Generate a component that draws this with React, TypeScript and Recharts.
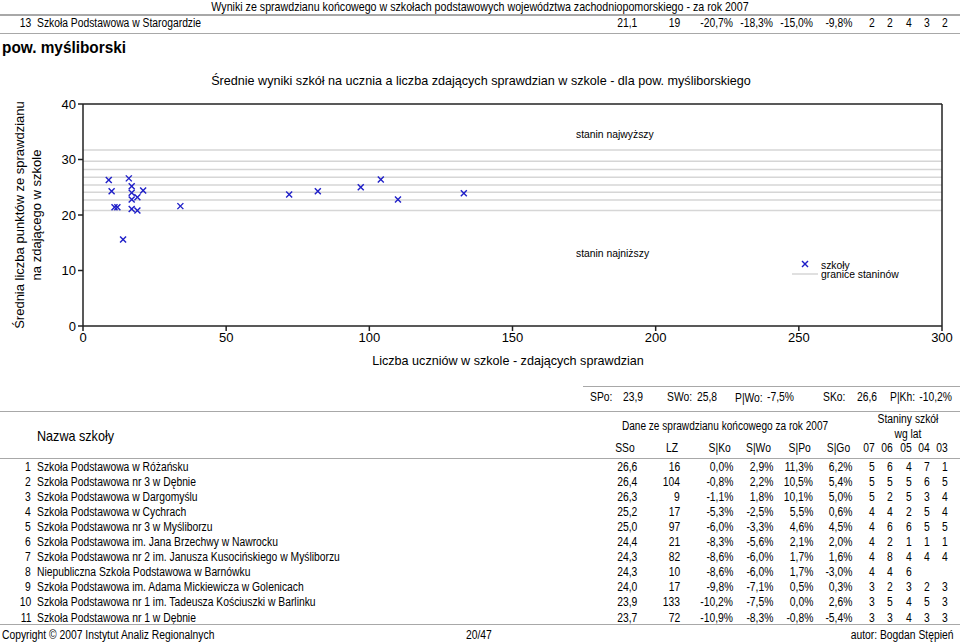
import React from 'react';
import { ScatterChart, Scatter, XAxis, YAxis, ReferenceLine } from 'recharts';

// szkoły: liczba zdających (LZ) i średni wynik (SSo)
const pointLZ = [16, 104, 9, 17, 97, 21, 82, 10, 17, 133, 72, 19, 17, 110, 34, 11, 12, 17, 19, 14];
const pointSSo = [26.6, 26.4, 26.3, 25.2, 25.0, 24.4, 24.3, 24.3, 24.0, 23.9, 23.7, 23.2, 22.8, 22.8, 21.6, 21.4, 21.4, 21.1, 20.8, 15.6];
const stanineBounds = [31.7, 29.7, 28.2, 26.8, 25.4, 24.1, 22.7, 20.8];
const xTicks = [0, 50, 100, 150, 200, 250, 300];
const yTicks = [0, 10, 20, 30, 40];

// tabela
const names = [
  'Szkoła Podstawowa w Różańsku',
  'Szkoła Podstawowa nr 3 w Dębnie',
  'Szkoła Podstawowa w Dargomyślu',
  'Szkoła Podstawowa w Cychrach',
  'Szkoła Podstawowa nr 3 w Myśliborzu',
  'Szkoła Podstawowa im. Jana Brzechwy w Nawrocku',
  'Szkoła Podstawowa nr 2 im. Janusza Kusocińskiego w Myśliborzu',
  'Niepubliczna Szkoła Podstawowa w Barnówku',
  'Szkoła Podstawowa im. Adama Mickiewicza w Golenicach',
  'Szkoła Podstawowa nr 1 im. Tadeusza Kościuszki w Barlinku',
  'Szkoła Podstawowa nr 1 w Dębnie',
];
const colSSo = ['26,6', '26,4', '26,3', '25,2', '25,0', '24,4', '24,3', '24,3', '24,0', '23,9', '23,7'];
const colLZ = ['16', '104', '9', '17', '97', '21', '82', '10', '17', '133', '72'];
const colSKo = ['0,0%', '-0,8%', '-1,1%', '-5,3%', '-6,0%', '-8,3%', '-8,6%', '-8,6%', '-9,8%', '-10,2%', '-10,9%'];
const colSWo = ['2,9%', '2,2%', '1,8%', '-2,5%', '-3,3%', '-5,6%', '-6,0%', '-6,0%', '-7,1%', '-7,5%', '-8,3%'];
const colSPo = ['11,3%', '10,5%', '10,1%', '5,5%', '4,6%', '2,1%', '1,7%', '1,7%', '0,5%', '0,0%', '-0,8%'];
const colSGo = ['6,2%', '5,4%', '5,0%', '0,6%', '4,5%', '2,0%', '1,6%', '-3,0%', '0,3%', '2,6%', '-5,4%'];
const staniny = [
  ['5', '6', '4', '7', '1'],
  ['5', '5', '5', '6', '5'],
  ['5', '2', '5', '3', '4'],
  ['4', '4', '2', '5', '4'],
  ['4', '6', '6', '5', '5'],
  ['4', '2', '1', '1', '1'],
  ['4', '8', '4', '4', '4'],
  ['4', '4', '6', '', ''],
  ['3', '2', '3', '2', '3'],
  ['3', '5', '4', '5', '3'],
  ['3', '3', '4', '3', '3'],
];
const prevRow = ['13', 'Szkoła Podstawowa w Starogardzie', '21,1', '19', '-20,7%', '-18,3%', '-15,0%', '-9,8%'];
const prevStaniny = ['2', '2', '4', '3', '2'];
const yearLabels = ['07', '06', '05', '04', '03'];
const colHeaders = ['SSo', 'LZ', 'S|Ko', 'S|Wo', 'S|Po', 'S|Go'];

const points = pointLZ.map((x, i) => ({ x, y: pointSSo[i] }));

const FONT = '"Liberation Sans", Arial, Helvetica, sans-serif';
const BLUE = '#1f1fc8';

type TProps = {
  x: number;
  y: number;
  anchor?: 'start' | 'middle' | 'end';
  size?: number;
  sx?: number;
  bold?: boolean;
  color?: string;
  children: React.ReactNode;
};

function T({ x, y, anchor = 'start', size = 12, sx = 0.86, bold, color = '#000', children }: TProps) {
  const lh = Math.round(size * 1.2);
  const inner: React.CSSProperties = {
    position: 'absolute',
    top: 0,
    whiteSpace: 'nowrap',
    fontSize: size,
    lineHeight: `${lh}px`,
    fontWeight: bold ? 'bold' : 'normal',
    color,
  };
  if (anchor === 'start') {
    inner.left = 0;
    inner.transformOrigin = 'left center';
    inner.transform = `scaleX(${sx})`;
  } else if (anchor === 'end') {
    inner.right = 0;
    inner.transformOrigin = 'right center';
    inner.transform = `scaleX(${sx})`;
  } else {
    inner.left = 0;
    inner.transformOrigin = 'center center';
    inner.transform = `translateX(-50%) scaleX(${sx})`;
  }
  return (
    <div style={{ position: 'absolute', left: x, top: y - lh / 2, width: 0, height: lh }}>
      <span style={inner}>{children}</span>
    </div>
  );
}

function HLine({ y, x1 = 0, x2 = 960, w = 1 }: { y: number; x1?: number; x2?: number; w?: number }) {
  return <div style={{ position: 'absolute', left: x1, top: y, width: x2 - x1, height: w, background: '#a8a8a8' }} />;
}

const Cross = (props: any) => {
  const { cx, cy } = props;
  const s = 3;
  return (
    <g stroke={BLUE} strokeWidth={1.4}>
      <line x1={cx - s} y1={cy - s} x2={cx + s} y2={cy + s} />
      <line x1={cx - s} y1={cy + s} x2={cx + s} y2={cy - s} />
    </g>
  );
};

const numRight = [637, 680, 733, 773, 813, 852];
const stanX = [872, 890, 909, 927, 945];

export default function App() {
  const rowY = (i: number) => 466.5 + i * 15.1;
  return (
    <div style={{ position: 'absolute', left: 0, top: 0, width: 960, height: 642, background: '#fff', fontFamily: FONT, overflow: 'hidden' }}>
      {/* nagłówek strony */}
      <T x={480} y={7} anchor="middle" size={13} sx={0.82}>
        Wyniki ze sprawdzianu końcowego w szkołach podstawowych województwa zachodniopomorskiego - za rok 2007
      </T>
      <HLine y={14} w={2} />
      <T x={31} y={23} anchor="end">{prevRow[0]}</T>
      <T x={37} y={23}>{prevRow[1]}</T>
      {prevRow.slice(2).map((v, j) => (
        <T key={j} x={numRight[j]} y={23} anchor="end">{v}</T>
      ))}
      {prevStaniny.map((v, j) => (
        <T key={j} x={stanX[j]} y={23} anchor="middle">{v}</T>
      ))}
      <HLine y={33} />
      <T x={2} y={47} size={16} sx={0.96} bold>pow. myśliborski</T>

      {/* wykres */}
      <div style={{ position: 'absolute', left: 0, top: 0 }}>
        <ScatterChart width={960} height={380} margin={{ top: 104, right: 18, bottom: 24, left: 43 }} style={{ fontFamily: FONT }}>
          <XAxis
            type="number"
            dataKey="x"
            domain={[0, 300]}
            ticks={xTicks}
            height={30}
            stroke="#222"
            strokeWidth={1.5}
            tickSize={5}
            tick={{ fill: '#000', fontSize: 13 }}
          />
          <YAxis
            type="number"
            dataKey="y"
            domain={[0, 40]}
            ticks={yTicks}
            width={40}
            stroke="#222"
            strokeWidth={1.5}
            tickSize={5}
            tick={{ fill: '#000', fontSize: 13 }}
          />
          {stanineBounds.map((v) => (
            <ReferenceLine key={v} y={v} stroke="#d6d6d6" strokeWidth={1.5} />
          ))}
          <ReferenceLine y={40} stroke="#222" strokeWidth={1.5} />
          <ReferenceLine x={300} stroke="#222" strokeWidth={1.5} />
          <Scatter data={points} shape={Cross} isAnimationActive={false} />
        </ScatterChart>
      </div>
      <T x={481} y={81} anchor="middle" size={12.6} sx={1}>
        Średnie wyniki szkół na ucznia a liczba zdających sprawdzian w szkole - dla pow. myśliborskiego
      </T>
      <T x={508} y={361} anchor="middle" size={12.6} sx={1}>Liczba uczniów w szkole - zdających sprawdzian</T>
      <div style={{ position: 'absolute', left: 28, top: 215, width: 0, height: 0 }}>
        <div style={{ position: 'absolute', left: -150, top: -17, width: 300, textAlign: 'center', fontSize: 13, lineHeight: '17px', transform: 'rotate(-90deg)', whiteSpace: 'nowrap' }}>
          Średnia liczba punktów ze sprawdzianu<br />na zdającego w szkole
        </div>
      </div>
      <T x={576} y={134} size={11.5} sx={0.9}>stanin najwyższy</T>
      <T x={576} y={253} size={11.5} sx={0.9}>stanin najniższy</T>
      <svg style={{ position: 'absolute', left: 0, top: 0 }} width={960} height={642} pointerEvents="none">
        <g stroke={BLUE} strokeWidth={1.4}>
          <line x1={802} y1={261} x2={808} y2={267} />
          <line x1={802} y1={267} x2={808} y2={261} />
        </g>
        <line x1={792} y1={274} x2={818} y2={274} stroke="#d6d6d6" strokeWidth={1.5} />
      </svg>
      <T x={821} y={265} size={11} sx={0.94}>szkoły</T>
      <T x={821} y={274} size={11} sx={0.94}>granice staninów</T>

      {/* podsumowanie */}
      <HLine y={386} x1={583} />
      <T x={590} y={397}>SPo:</T>
      <T x={623} y={397}>23,9</T>
      <T x={667} y={397}>SWo:</T>
      <T x={697} y={397}>25,8</T>
      <T x={735} y={398}>P|Wo:</T>
      <T x={767} y={397}>-7,5%</T>
      <T x={823} y={397}>SKo:</T>
      <T x={857} y={397}>26,6</T>
      <T x={890} y={397}>P|Kh:</T>
      <T x={952} y={397} anchor="end">-10,2%</T>
      <HLine y={411} />

      {/* nagłówek tabeli */}
      <T x={37} y={436} size={15} sx={0.84}>Nazwa szkoły</T>
      <T x={725} y={426} anchor="middle" size={12} sx={0.84}>Dane ze sprawdzianu końcowego za rok 2007</T>
      <T x={908} y={419} anchor="middle" size={12} sx={0.86}>Staniny szkół</T>
      <T x={908} y={434} anchor="middle" size={12} sx={0.86}>wg lat</T>
      {colHeaders.map((h, j) => (
        <T key={h} x={numRight[j] - 2} y={448} anchor="end">{h}</T>
      ))}
      {yearLabels.map((h, j) => (
        <T key={h} x={stanX[j] - 3} y={448} anchor="middle">{h}</T>
      ))}
      <HLine y={458} />

      {/* wiersze */}
      {names.map((n, i) => {
        const y = rowY(i);
        const vals = [colSSo[i], colLZ[i], colSKo[i], colSWo[i], colSPo[i], colSGo[i]];
        return (
          <React.Fragment key={n}>
            <T x={31} y={y} anchor="end">{String(i + 1)}</T>
            <T x={37} y={y}>{n}</T>
            {vals.map((v, j) => (
              <T key={j} x={numRight[j]} y={y} anchor="end">{v}</T>
            ))}
            {staniny[i].map((v, j) => (
              <T key={j} x={stanX[j]} y={y} anchor="middle">{v}</T>
            ))}
          </React.Fragment>
        );
      })}
      <HLine y={624} />

      {/* stopka */}
      <T x={2} y={635}>Copyright © 2007 Instytut Analiz Regionalnych</T>
      <T x={466} y={635}>20/47</T>
      <T x={953} y={635} anchor="end">autor: Bogdan Stępień</T>
    </div>
  );
}
